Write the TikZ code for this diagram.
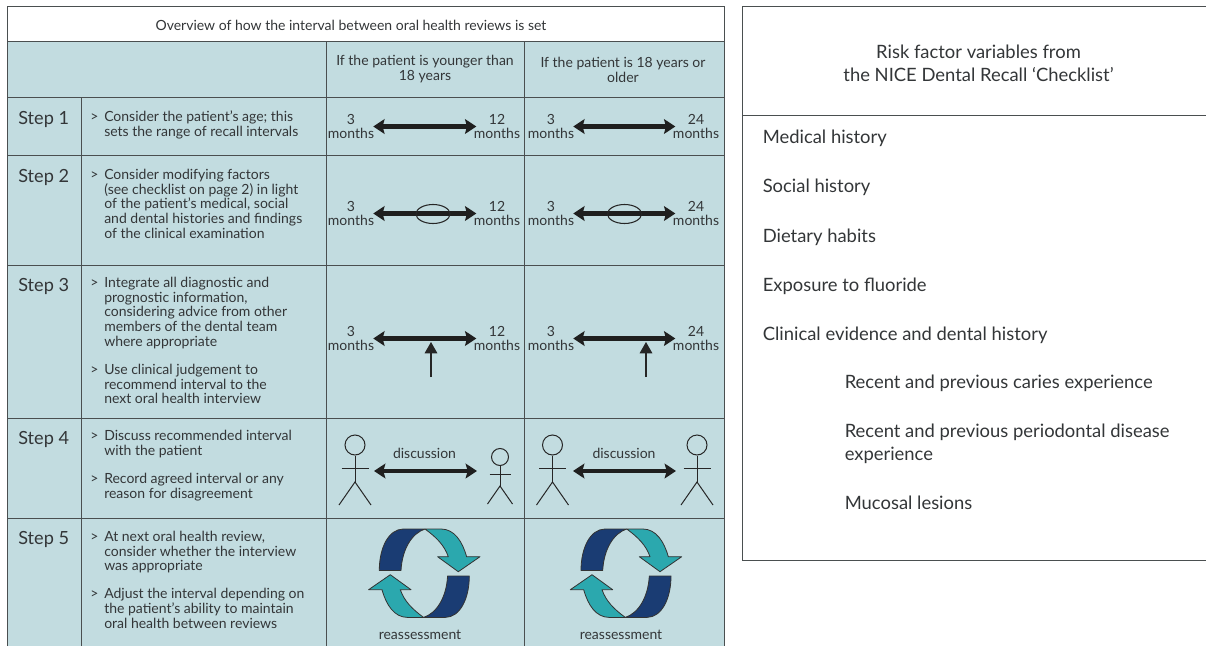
\documentclass[tikz,border=0pt]{standalone}
\usepackage{fontspec}
\setmainfont{Lato}
\usetikzlibrary{arrows.meta}
\definecolor{cellbg}{HTML}{C2DCE0}
\definecolor{rule}{HTML}{4A4F50}
\definecolor{ink}{HTML}{333638}
\definecolor{navyarc}{HTML}{1A3C73}
\definecolor{tealarc}{HTML}{2BA8AE}
\tikzset{
  gridline/.style={draw=rule,line width=0.75pt},
  bodytext/.style={anchor=north west,inner sep=0pt,align=left,text=ink,font=\fontsize{10.5}{11.2}\selectfont},
  bullet/.style={anchor=north west,inner sep=0pt,text=ink,font=\fontsize{10.5}{11.2}\selectfont},
  steplabel/.style={anchor=west,inner sep=0pt,text=ink,font=\fontsize{13.6}{16}\selectfont},
  headtext/.style={align=center,inner sep=0pt,text=ink,font=\fontsize{10.5}{11.2}\selectfont},
  monthlabel/.style={align=center,inner sep=0pt,text=ink,font=\fontsize{10.5}{11.2}\selectfont},
  bigarrow/.style={draw=black!88,line width=3.7pt,{Stealth[length=8.5pt,width=11pt,inset=1.5pt]}-{Stealth[length=8.5pt,width=11pt,inset=1.5pt]}},
  oval/.style={draw=black!85,line width=0.8pt},
  pointer/.style={draw=black!85,line width=0.8pt,-{Triangle[length=8.5pt,width=9.5pt]}},
  stick/.style={draw=black!85,line width=0.75pt},
  arcshape/.style={draw=black!80,line width=0.6pt,line join=round},
  paneltext/.style={anchor=west,inner sep=0pt,align=left,text=ink,font=\fontsize{13.8}{17.3}\selectfont},
}
% range labels and arrow: name, x1, x2, y, right value
\newcommand{\rangerow}[5]{%
  \node[monthlabel] (#1a) at (#2,#4) {3\\months};
  \node[monthlabel] (#1b) at (#3,#4) {#5\\months};
  \draw[bigarrow,shorten <=-0.8pt,shorten >=-2pt] (#1a.east) -- (#1b.west);
}
% stick figure: name, x, head y, radius, arm half-width, arm y, hip y, foot half-width, foot y
\newcommand{\stickman}[9]{%
  \node[stick,circle,minimum size=#4*2*0.75pt,inner sep=0pt] (#1) at (#2,#3) {};
  \coordinate (#1hip) at (#2,#7);
  \draw[stick] (#1.south) -- (#1hip);
  \draw[stick] (#2-#5,#6) -- (#2+#5,#6);
  \draw[stick] (#2-#8,#9) -- (#1hip) -- (#2+#8,#9);
}
\newcommand{\cycleicon}[2]{%
  \begin{scope}[shift={(#1,#2)}]
    \foreach \r in {0,180}{
      \begin{scope}[rotate=\r]
        \filldraw[arcshape,fill=navyarc] (-23.3,-2.8) .. controls (-22,-25) and (-12,-40) .. (0.7,-44.2)
          -- (-21,-44.2) .. controls (-36,-44) and (-45,-25) .. (-45,-2.8) -- cycle;
        \filldraw[arcshape,fill=tealarc] (0.7,-44.2) -- (17,-44.2) .. controls (30,-44) and (38,-32) .. (42.3,-16.5)
          -- (55.7,-16.5) -- (34,-1.5) -- (13.3,-16.5) -- (24,-16.5) .. controls (20,-28) and (12,-36) .. (0.7,-44.2) -- cycle;
      \end{scope}
    }
  \end{scope}
}
\begin{document}
\begin{tikzpicture}[x=0.75pt,y=-0.75pt]
\useasboundingbox (0,0) rectangle (1206,646);
\fill[white] (0,0) rectangle (1206,646);
\fill[cellbg] (7,41) rectangle (724,646);
% grid
\draw[gridline] (7,646) -- (7,6) -- (724,6) -- (724,646);
\draw[gridline] (7,41) -- (724,41);
\foreach \yy in {97,155,265,418,518} \draw[gridline] (7,\yy) -- (724,\yy);
\draw[gridline] (81,97) -- (81,646);
\draw[gridline] (326,41) -- (326,646);
\draw[gridline] (524,41) -- (524,646);
% header
\node[headtext] (title) at (351,25.5) {Overview of how the interval between oral health reviews is set};
\node[headtext] (colA) at (425,69.5) {If the patient is younger than\\18 years};
\node[headtext] (colB) at (623,69.5) {If the patient is 18 years or\\older};
% steps
\node[steplabel] (s1) at (18,119.5) {Step 1};
\node[steplabel] (s2) at (18,177.5) {Step 2};
\node[steplabel] (s3) at (18,286.5) {Step 3};
\node[steplabel] (s4) at (18,439.5) {Step 4};
\node[steplabel] (s5) at (18,539.5) {Step 5};
% texts
\node[bullet] (b1) at (90,113) {>};
\node[bodytext] (t1) at (104,110.5) {Consider the patient’s age; this\\sets the range of recall intervals};
\node[bullet] (b2) at (90,171) {>};
\node[bodytext] (t2) at (104,168.5) {Consider modifying factors\\(see checklist on page 2) in light\\of the patient’s medical, social\\and dental histories and findings\\of the clinical examination};
\node[bullet] (b3) at (90,279) {>};
\node[bodytext] (t3) at (104,276.5) {Integrate all diagnostic and\\prognostic information,\\considering advice from other\\members of the dental team\\where appropriate};
\node[bullet] (b3b) at (90,366) {>};
\node[bodytext] (t3b) at (104,363.5) {Use clinical judgement to\\recommend interval to the\\next oral health interview};
\node[bullet] (b4) at (90,432.5) {>};
\node[bodytext] (t4) at (104,430) {Discuss recommended interval\\with the patient};
\node[bullet] (b4b) at (90,475) {>};
\node[bodytext] (t4b) at (104,472.5) {Record agreed interval or any\\reason for disagreement};
\node[bullet] (b5) at (90,533) {>};
\node[bodytext] (t5) at (104,530.5) {At next oral health review,\\consider whether the interview\\was appropriate};
\node[bullet] (b5b) at (90,590.5) {>};
\node[bodytext] (t5b) at (104,588) {Adjust the interval depending on\\the patient’s ability to maintain\\oral health between reviews};
% ranges
\rangerow{ra}{351}{497}{126.5}{12}
\rangerow{rb}{551}{696}{126.5}{24}
\rangerow{rc}{351}{497}{213.5}{12}
\rangerow{rd}{551}{696}{213.5}{24}
\rangerow{re}{351}{497}{338.5}{12}
\rangerow{rf}{551}{696}{338.5}{24}
\draw[oval] (433,214) ellipse (17 and 9.5);
\draw[oval] (624.5,214) ellipse (17 and 9.5);
\coordinate (pa) at (431,377); \coordinate (pat) at (431,342);
\coordinate (pb) at (646,377); \coordinate (pbt) at (646,342);
\draw[pointer] (pa) -- (pat);
\draw[pointer] (pb) -- (pbt);
% step 4
\stickman{ma}{355}{445}{10}{13.5}{468}{482}{16}{505}
\stickman{mb}{500}{457}{8.5}{10.5}{474.5}{486}{12.5}{504}
\stickman{mc}{552.5}{445}{10}{13.5}{468}{482}{16}{505}
\stickman{md}{697}{445}{10}{13.5}{468}{482}{16}{505}
\coordinate (da) at (374,471); \coordinate (db) at (477,471);
\coordinate (dc) at (573,471); \coordinate (dd) at (676,471);
\draw[bigarrow] (da) -- (db);
\draw[bigarrow] (dc) -- (dd);
\node[headtext] (dl) at (424.5,453) {discussion};
\node[headtext] (dr) at (624,453) {discussion};
% step 5
\cycleicon{424.3}{573.2}
\cycleicon{626}{573.2}
\node[headtext] (ra1) at (420,634.5) {reassessment};
\node[headtext] (ra2) at (621,634.5) {reassessment};
% right panel
\draw[gridline] (1206,6) -- (742,6) -- (742,560) -- (1206,560);
\draw[gridline] (742,115) -- (1206,115);
\node[paneltext,align=center,anchor=center] (ptitle) at (978.5,63.5) {Risk factor variables from\\the NICE Dental Recall ‘Checklist’};
\node[paneltext] (p1) at (762.5,138) {Medical history};
\node[paneltext] (p2) at (762.5,187) {Social history};
\node[paneltext] (p3) at (762.5,237) {Dietary habits};
\node[paneltext] (p4) at (762.5,286) {Exposure to fluoride};
\node[paneltext] (p5) at (762.5,335) {Clinical evidence and dental history};
\node[paneltext] (p6) at (844.5,383) {Recent and previous caries experience};
\node[paneltext] (p7) at (844.5,444) {Recent and previous periodontal disease\\experience};
\node[paneltext] (p8) at (844.5,503) {Mucosal lesions};
\end{tikzpicture}
\end{document}
